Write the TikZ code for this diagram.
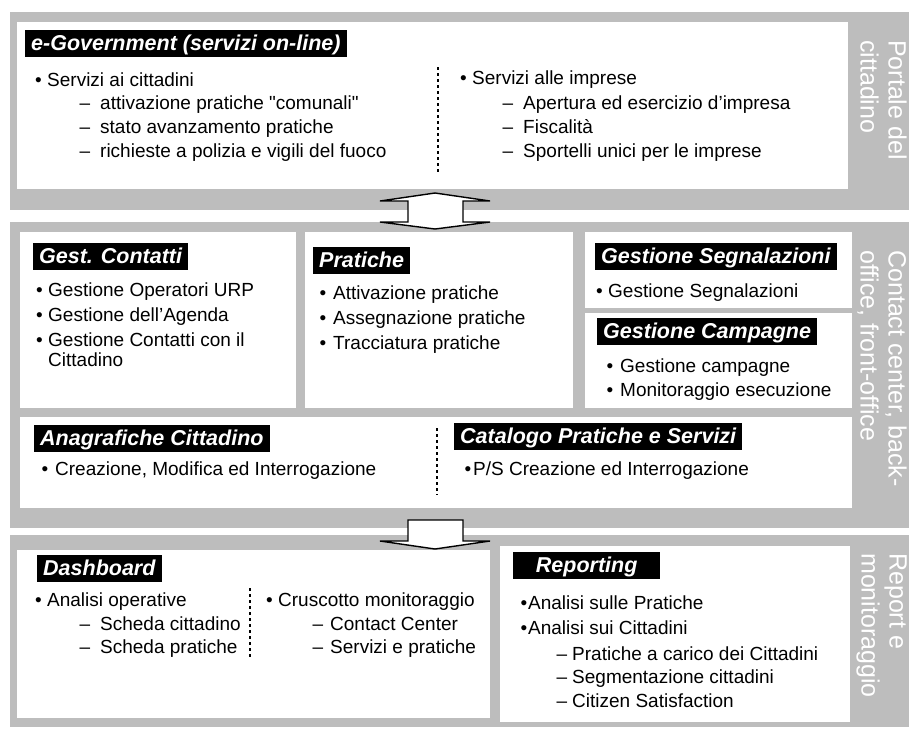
\documentclass[tikz,border=0pt]{standalone}
\usepackage{fontspec}
\setmainfont{Liberation Sans}
\newfontfamily\plainquote{Liberation Sans}
\usetikzlibrary{positioning}
\definecolor{bandgray}{gray}{0.74}
\newcommand{\bodyfont}{\fontsize{19}{22}\selectfont}
\newcommand{\headfont}{\fontsize{21.5}{25}\selectfont\bfseries\itshape}
\newcommand{\dq}{{\plainquote"}}

\begin{document}
\begin{tikzpicture}[x=1pt,y=-1pt,
    band/.style={fill=bandgray,draw=none},
    panel/.style={fill=white,draw=none,inner sep=0pt,anchor=north west},
    head/.style={fill=black,text=white,font=\headfont,inner xsep=6pt,inner ysep=1.5pt,
        text height=19pt,text depth=5pt},
    txt/.style={anchor=west,inner sep=0pt,font=\bodyfont,text height=13.5pt,text depth=0pt},
    bitem/.style={txt,execute at begin node={\llap{\textbullet\hspace{#1}}}},
    bitem/.default=5.5pt,
    ditem/.style={txt,execute at begin node={\llap{--\hspace{#1}}}},
    ditem/.default=10pt,
    side/.style={text=white,rotate=-90,align=left,inner sep=0pt,anchor=north west,
        font=\fontsize{25}{28}\selectfont},
    divider/.style={line width=1.4pt,dash pattern=on 3pt off 3pt},
    blockarrow/.style={fill=white,draw=black,line width=1.4pt,line join=miter}]
    \useasboundingbox (0,0) rectangle (909,729);

    % bands
    \fill[band] (10,12) rectangle (909,210);
    \fill[band] (10,222) rectangle (909,528);
    \fill[band] (10,535) rectangle (909,727);

    % portale del cittadino
    \node[panel,minimum width=831pt,minimum height=167pt] (egov) at (17,22) {};
    \node[head,anchor=north west,below right=8pt and 8pt of egov.north west] (egovhead)
        {e-Government (servizi on-line)};
    \node[bitem] (cit) at (47,80) {Servizi ai cittadini};
    \node[ditem] (cit1) at (100,103) {attivazione pratiche \dq comunali\dq};
    \node[ditem] (cit2) at (100,127) {stato avanzamento pratiche};
    \node[ditem] (cit3) at (100,151) {richieste a polizia e vigili del fuoco};
    \draw[divider] (438,67) -- (438,173);
    \node[bitem] (imp) at (472,78) {Servizi alle imprese};
    \node[ditem] (imp1) at (523,103) {Apertura ed esercizio d'impresa};
    \node[ditem] (imp2) at (523,127) {Fiscalità};
    \node[ditem] (imp3) at (523,151) {Sportelli unici per le imprese};
    \node[side] (portale) at (907,40) {Portale del\\cittadino};

    % contact center
    \node[panel,minimum width=276pt,minimum height=176pt] (contatti) at (20,232) {};
    \node[head,anchor=north west,below right=11pt and 13pt of contatti.north west] (contattihead)
        {Gest. Contatti};
    \node[bitem] (con1) at (48,290) {Gestione Operatori URP};
    \node[bitem] (con2) at (48,315) {Gestione dell'Agenda};
    \node[bitem] (con3) at (48,340) {Gestione Contatti con il};
    \node[txt] (con3b) at (48,360) {Cittadino};

    \node[panel,minimum width=268pt,minimum height=176pt] (pratiche) at (305,232) {};
    \node[head,anchor=north west,below right=15pt and 8pt of pratiche.north west] (pratichehead)
        {Pratiche};
    \node[bitem=7pt] (pra1) at (333,293) {Attivazione pratiche};
    \node[bitem=7pt] (pra2) at (333,318) {Assegnazione pratiche};
    \node[bitem=7pt] (pra3) at (333,343) {Tracciatura pratiche};

    \node[panel,minimum width=267pt,minimum height=76pt] (segnal) at (585,232) {};
    \node[head,anchor=north west,below right=11pt and 10pt of segnal.north west] (segnalhead)
        {Gestione Segnalazioni};
    \node[bitem] (seg1) at (608,291) {Gestione Segnalazioni};

    \node[panel,minimum width=267pt,minimum height=95pt] (campagne) at (585,313) {};
    \node[head,anchor=north west,below right=5pt and 12pt of campagne.north west] (campagnehead)
        {Gestione Campagne};
    \node[bitem=7pt] (cam1) at (620,366) {Gestione campagne};
    \node[bitem=7pt] (cam2) at (620,390) {Monitoraggio esecuzione};

    \node[panel,minimum width=832pt,minimum height=91pt] (anagr) at (20,417) {};
    \node[head,anchor=north west,below right=8pt and 14pt of anagr.north west] (anagrhead)
        {Anagrafiche Cittadino};
    \node[bitem=7pt] (ana1) at (55,469) {Creazione, Modifica ed Interrogazione};
    \draw[divider] (437,428) -- (437,495);
    \node[head,anchor=north west] (cataloghead) at (454,423) {Catalogo Pratiche e Servizi};
    \node[bitem=2pt] (cat1) at (473,469) {P/S Creazione ed Interrogazione};
    \node[side] (contact) at (907,250) {Contact center, back-\\office, front-office};

    % report e monitoraggio
    \node[panel,minimum width=473pt,minimum height=168pt] (dash) at (17,550) {};
    \node[head,anchor=north west,below right=5pt and 20pt of dash.north west] (dashhead)
        {Dashboard};
    \node[bitem] (das1) at (47,600) {Analisi operative};
    \node[ditem] (das2) at (100,624) {Scheda cittadino};
    \node[ditem] (das3) at (100,647) {Scheda pratiche};
    \draw[divider] (250,588) -- (250,657);
    \node[bitem] (cru1) at (278,600) {Cruscotto monitoraggio};
    \node[ditem=7pt] (cru2) at (330,624) {Contact Center};
    \node[ditem=7pt] (cru3) at (330,647) {Servizi e pratiche};

    \node[panel,minimum width=350pt,minimum height=176pt] (report) at (500,546) {};
    \node[head,anchor=north west,minimum width=147pt,below right=6pt and 13pt of report.north west]
        (reporthead) {Reporting};
    \node[bitem=1pt] (rep1) at (528,603) {Analisi sulle Pratiche};
    \node[bitem=1pt] (rep2) at (528,628) {Analisi sui Cittadini};
    \node[ditem=5pt] (rep3) at (572,654) {Pratiche a carico dei Cittadini};
    \node[ditem=5pt] (rep4) at (572,677) {Segmentazione cittadini};
    \node[ditem=5pt] (rep5) at (572,701) {Citizen Satisfaction};
    \node[side] (monit) at (907,553) {Report e\\monitoraggio};

    % frecce
    \draw[blockarrow] (380,201) -- (435,193) -- (490,201) -- (463,201) -- (463,222)
        -- (490,222) -- (435,229) -- (380,222) -- (408,222) -- (408,201) -- cycle;
    \draw[blockarrow] (408,520) -- (463,520) -- (463,541) -- (490,541) -- (435,549)
        -- (380,541) -- (408,541) -- cycle;
\end{tikzpicture}
\end{document}
